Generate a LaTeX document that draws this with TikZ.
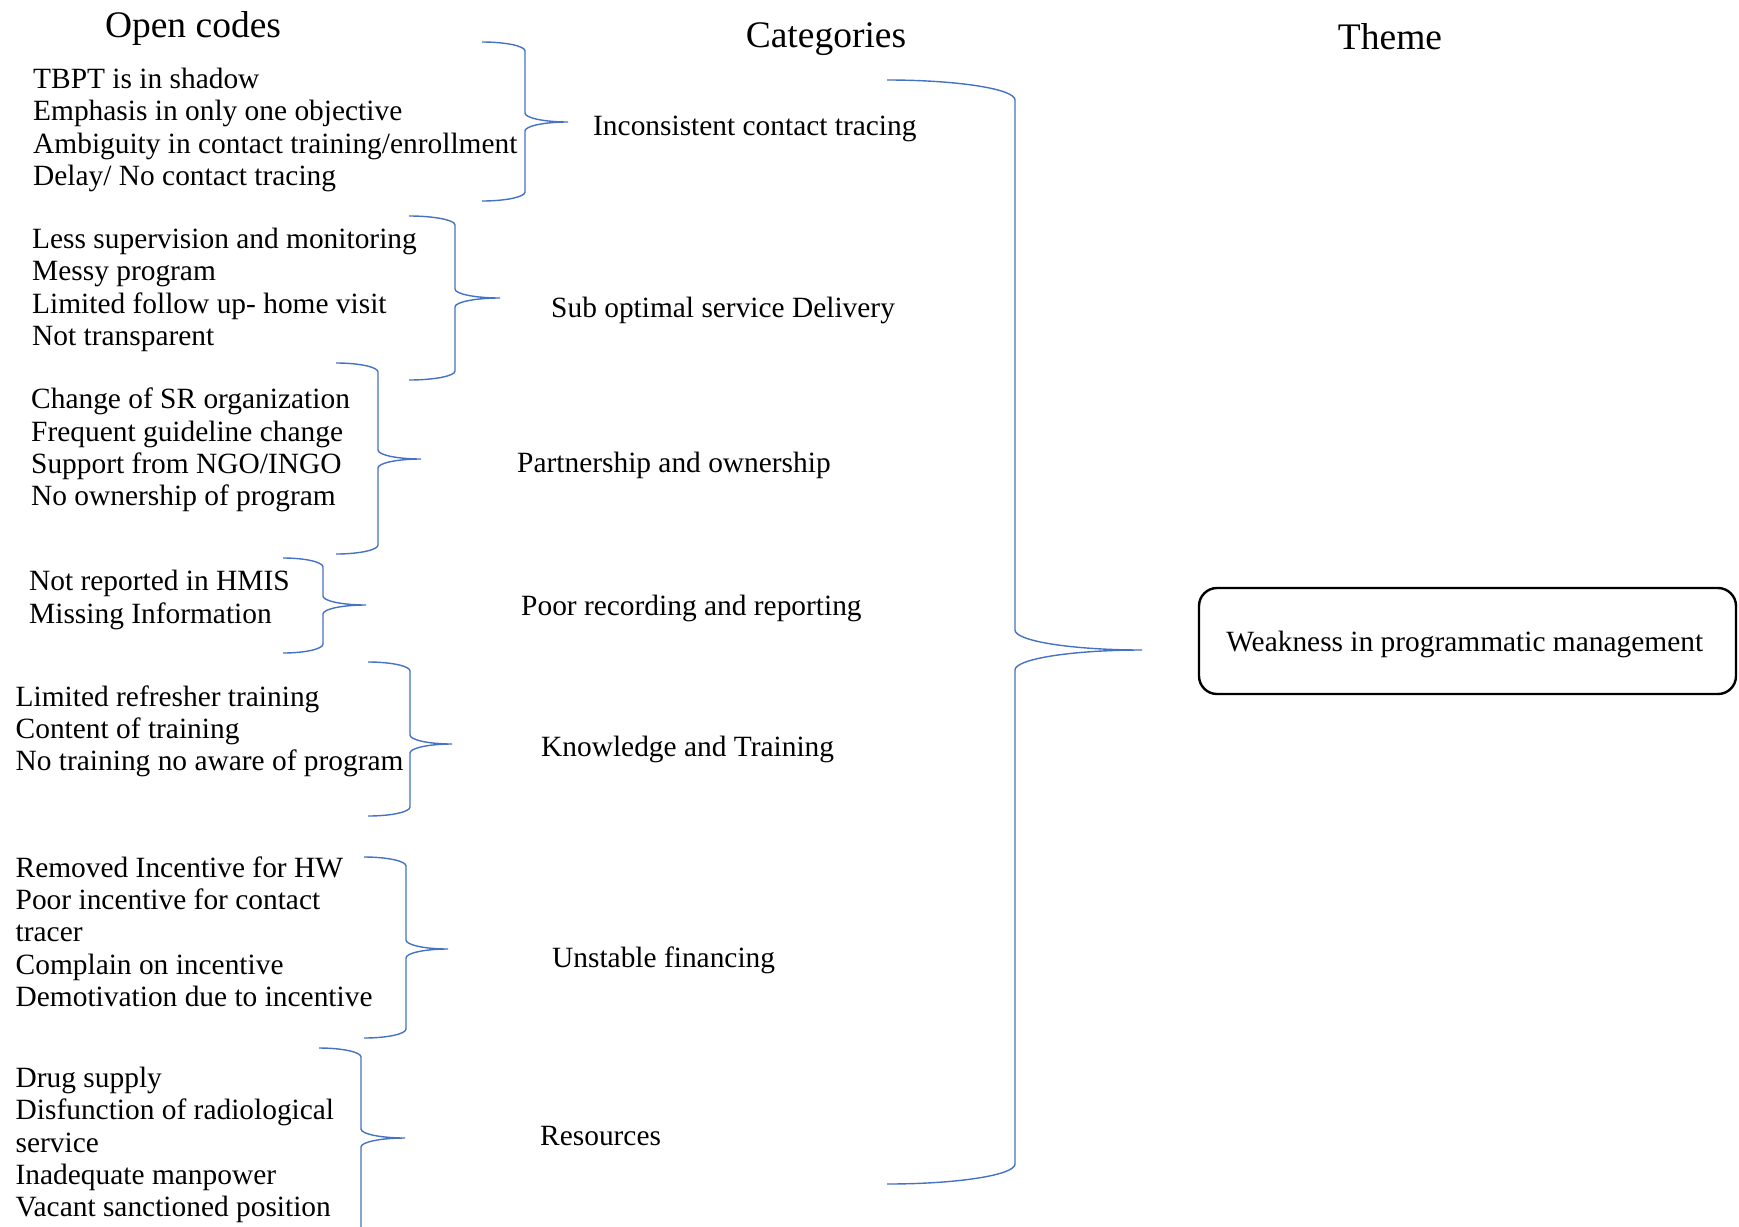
\documentclass[tikz,border=0pt]{standalone}
\usepackage{fontspec}
\setmainfont{Liberation Serif}
\definecolor{bracecol}{RGB}{68,114,196}

% right-pointing curly brace: x0 (arm ends), xs (spine), xtip, ytop, ymid, ybot, bend
\newcommand\drawbrace[7]{%
  \draw[brace] (#1,#4)
    .. controls ({#1+0.552*(#2-#1)},#4) and (#2,{#4+0.448*#7}) .. (#2,{#4+#7})
    -- (#2,{#5-#7})
    .. controls (#2,{#5-0.448*#7}) and ({#3-0.552*(#3-#2)},#5) .. (#3,#5)
    .. controls ({#3-0.552*(#3-#2)},#5) and (#2,{#5+0.448*#7}) .. (#2,{#5+#7})
    -- (#2,{#6-#7})
    .. controls (#2,{#6-0.448*#7}) and ({#1+0.552*(#2-#1)},#6) .. (#1,#6);}

\tikzset{
  brace/.style={draw=bracecol, line width=1.4pt},
  codes/.style={anchor=west, align=left, inner sep=0pt, font=\fontsize{29.4}{32.3}\selectfont},
  cat/.style={anchor=west, inner sep=0pt, font=\fontsize{29.4}{32.3}\selectfont},
  head/.style={inner sep=0pt, font=\fontsize{37.5}{40}\selectfont},
  themebox/.style={draw=black, line width=2.4pt, rounded corners=18pt,
    minimum width=537pt, minimum height=106pt, inner sep=0pt,
    font=\fontsize{29.4}{32.3}\selectfont}
}

\begin{document}
\begin{tikzpicture}[x=1pt, y=-1pt]
\useasboundingbox (0,0) rectangle (1739,1226);
\clip (0,0) rectangle (1739,1226);

% column headings
\node[head] (hcodes) at (193,28.5) {Open codes};
\node[head] (hcat) at (826,39.5) {Categories};
\node[head] (htheme) at (1390,37) {Theme};

% open codes
\node[codes] (c1) at (33,130) {TBPT is in shadow\\Emphasis in only one objective\\Ambiguity in contact training/enrollment\\Delay/ No contact tracing};
\node[codes] (c2) at (32,290) {Less supervision and monitoring\\Messy program\\Limited follow up- home visit\\Not transparent};
\node[codes] (c3) at (31,450) {Change of SR organization\\Frequent guideline change\\Support from NGO/INGO\\No ownership of program};
\node[codes] (c4) at (29,600) {Not reported in HMIS\\Missing Information};
\node[codes] (c5) at (15.5,731.5) {Limited refresher training\\Content of training\\No training no aware of program};
\node[codes] (c6) at (15.5,931.5) {Removed Incentive for HW\\Poor incentive for contact\\tracer\\Complain on incentive\\Demotivation due to incentive};
\node[codes] (c7) at (15.5,1145) {Drug supply\\Disfunction of radiological\\service\\Inadequate manpower\\Vacant sanctioned position};

% categories
\node[cat] (k1) at (593,129) {Inconsistent contact tracing};
\node[cat] (k2) at (551,310) {Sub optimal service Delivery};
\node[cat] (k3) at (517,465) {Partnership and ownership};
\node[cat] (k4) at (521,608) {Poor recording and reporting};
\node[cat] (k5) at (541,749) {Knowledge and Training};
\node[cat] (k6) at (552,960) {Unstable financing};
\node[cat] (k7) at (540,1136) {Resources};

% theme
\node[themebox] (theme) at (1467.5,641) {\kern-5.6pt\raisebox{-3.3pt}[\height][\depth]{Weakness in programmatic management}};

% braces grouping codes into categories
\drawbrace{482}{525}{568}{42}{122}{201}{9}
\drawbrace{409}{455}{500}{216}{298}{380}{9}
\drawbrace{336}{378}{421}{363}{459}{554}{9}
\drawbrace{283}{323}{366}{558}{605}{653}{9}
\drawbrace{368}{410}{452}{662}{744}{816}{9}
\drawbrace{364}{406}{448}{857}{949}{1038}{9}
\drawbrace{319}{361}{405}{1048}{1138}{1240}{9}

% brace grouping categories into the theme
\drawbrace{887}{1015}{1142}{80}{650}{1184}{20}
\end{tikzpicture}
\end{document}
